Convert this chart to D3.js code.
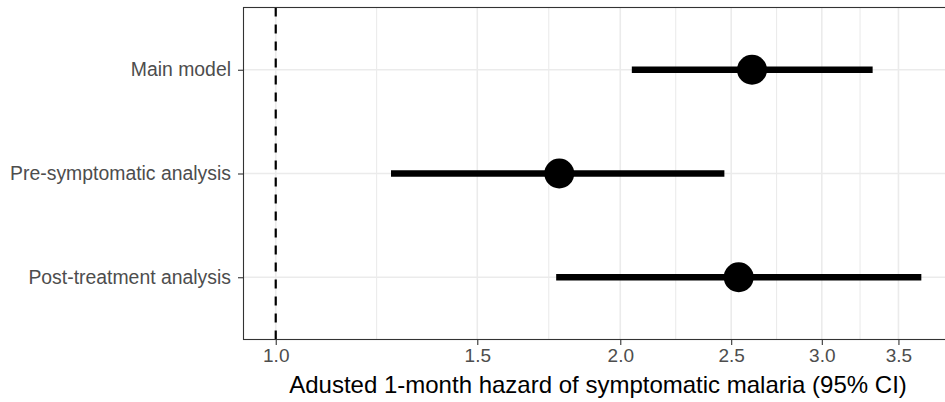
<!DOCTYPE html>
<html lang="en">
<head>
    <meta charset="UTF-8">
    <title>Adjusted hazard of symptomatic malaria</title>
    <script src="https://d3js.org/d3.v7.min.js"></script>
    <style>
        body {
            margin: 0;
            background-color: #fff;
            font-family: "Liberation Sans", Arial, sans-serif;
        }
        .grid line {
            stroke: #ebebeb;
        }
        .axis text {
            fill: #4d4d4d;
            font-size: 19px;
        }
        .axis.y text {
            font-size: 19.4px;
        }
        .axis line {
            stroke: #333;
            stroke-width: 1.1;
        }
        .axis path {
            display: none;
        }
        .axis-title {
            font-size: 24px;
            fill: #000;
        }
    </style>
</head>
<body>
    <div id="chart"></div>

    <script>
        // estimates
        const models = ['Main model', 'Pre-symptomatic analysis', 'Post-treatment analysis'];
        const estimate = [2.607, 1.769, 2.538];
        const lower = [2.047, 1.261, 1.758];
        const upper = [3.323, 2.466, 3.665];

        const majorTicks = [1.0, 1.5, 2.0, 2.5, 3.0, 3.5];
        const minorTicks = [1.225, 1.732, 2.236, 2.739, 3.240];
        const refLine = 1.0;

        const width = 945, height = 402;
        const panel = { left: 243.5, top: 7.5, right: 953.5, bottom: 339.5 };

        const svg = d3.select('#chart').append('svg')
            .attr('width', width)
            .attr('height', height);

        const x = d3.scaleLog()
            .domain([0.9372, 3.910])
            .range([panel.left, panel.right]);

        const y = d3.scalePoint()
            .domain(models)
            .range([panel.top, panel.bottom])
            .padding(0.6);

        // grid
        const grid = svg.append('g').attr('class', 'grid');
        grid.selectAll('.minor')
            .data(minorTicks)
            .enter().append('line')
            .attr('x1', d => x(d)).attr('x2', d => x(d))
            .attr('y1', panel.top).attr('y2', panel.bottom)
            .attr('stroke-width', 1.1);
        grid.selectAll('.major')
            .data(majorTicks)
            .enter().append('line')
            .attr('x1', d => x(d)).attr('x2', d => x(d))
            .attr('y1', panel.top).attr('y2', panel.bottom)
            .attr('stroke-width', 1.6);
        grid.selectAll('.row')
            .data(models)
            .enter().append('line')
            .attr('x1', panel.left).attr('x2', panel.right)
            .attr('y1', d => y(d)).attr('y2', d => y(d))
            .attr('stroke-width', 1.6);

        // reference line
        svg.append('line')
            .attr('x1', x(refLine)).attr('x2', x(refLine))
            .attr('y1', panel.bottom).attr('y2', panel.top)
            .attr('stroke', '#000')
            .attr('stroke-width', 2.2)
            .attr('stroke-dasharray', '9,8');

        const rows = models.map((m, i) => ({ m, est: estimate[i], lo: lower[i], hi: upper[i] }));

        svg.selectAll('.ci')
            .data(rows)
            .enter().append('line')
            .attr('x1', d => x(d.lo)).attr('x2', d => x(d.hi))
            .attr('y1', d => y(d.m)).attr('y2', d => y(d.m))
            .attr('stroke', '#000')
            .attr('stroke-width', 6.5);

        svg.selectAll('.pt')
            .data(rows)
            .enter().append('circle')
            .attr('cx', d => x(d.est))
            .attr('cy', d => y(d.m))
            .attr('r', 15)
            .attr('fill', '#000');

        // panel border
        svg.append('rect')
            .attr('x', panel.left).attr('y', panel.top)
            .attr('width', panel.right - panel.left)
            .attr('height', panel.bottom - panel.top)
            .attr('fill', 'none')
            .attr('stroke', '#333')
            .attr('stroke-width', 1.1);

        // axes
        svg.append('g')
            .attr('class', 'axis x')
            .attr('transform', `translate(0,${panel.bottom})`)
            .call(d3.axisBottom(x).tickValues(majorTicks).tickFormat(d3.format('.1f')).tickSize(5.5).tickPadding(4));

        svg.append('g')
            .attr('class', 'axis y')
            .attr('transform', `translate(${panel.left},0)`)
            .call(d3.axisLeft(y).tickSize(5.5).tickPadding(7));

        svg.append('text')
            .attr('class', 'axis-title')
            .attr('x', 598)
            .attr('y', 393)
            .attr('text-anchor', 'middle')
            .text('Adusted 1-month hazard of symptomatic malaria (95% CI)');
    </script>
</body>
</html>
